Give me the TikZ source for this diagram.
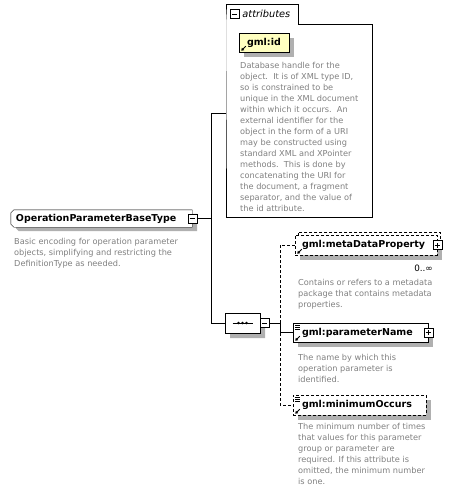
\documentclass[tikz,border=0pt]{standalone}
\usepackage{fontspec}
\setmainfont{DejaVu Sans}
\usetikzlibrary{shapes.misc,shadows,positioning,arrows.meta}

\definecolor{descgray}{RGB}{128,128,128}
\definecolor{idyellow}{RGB}{255,255,192}
\definecolor{shadegray}{RGB}{176,176,176}

\tikzset{
  boxshade/.style={drop shadow={shadow xshift=5pt, shadow yshift=-5pt, fill=shadegray, opacity=1}},
  elbox/.style={draw, fill=white, inner sep=0pt, boxshade},
  optline/.style={dash pattern=on 3pt off 2pt},
  optbox/.style={elbox, optline},
  lbl/.style={inner sep=0pt, font=\fontsize{9.5}{11}\selectfont\bfseries},
  desc/.style={anchor=north west, inner sep=0pt, align=left, text=descgray,
    font=\fontsize{8.2}{11}\selectfont},
  minusbox/.style={draw, fill=white, minimum size=9pt, inner sep=0pt,
    path picture={\draw ([xshift=2pt]path picture bounding box.west) -- ([xshift=-2pt]path picture bounding box.east);}},
  plusbox/.style={draw, fill=white, minimum size=9pt, inner sep=0pt,
    path picture={\draw ([xshift=2pt]path picture bounding box.west) -- ([xshift=-2pt]path picture bounding box.east);
      \draw ([yshift=2pt]path picture bounding box.south) -- ([yshift=-2pt]path picture bounding box.north);}},
}

% small reference arrow, lower left corner of an element box
\newcommand\refmark[1]{%
  \draw[line width=.9pt, -{Triangle[length=2.5pt,width=3.2pt]}]
    ([shift={(7pt,6pt)}]#1.south west) -- ([shift={(2.5pt,1.5pt)}]#1.south west);}
% simple content lines, upper left corner of an element box
\newcommand\seqmark[1]{%
  \foreach \dy in {2.5,4.5,6.5}
    \draw[line width=.6pt] ([shift={(2pt,-\dy pt)}]#1.north west) -- ++(5pt,0pt);}

\begin{document}
\begin{tikzpicture}[x=1pt, y=-1pt]
  \useasboundingbox[fill=white] (0,0) rectangle (455,492);

  %%type
  \node[minimum width=181pt, minimum height=17pt, inner sep=0pt] (optype) at (101.5,218.5) {};
  \draw[fill=white, preaction={fill=shadegray, transform canvas={shift={(5pt,-4pt)}}}]
    ([xshift=3pt]optype.north west) -- (optype.north east) -- (optype.south east)
    -- ([xshift=3pt]optype.south west) -- ([yshift=3pt]optype.south west)
    -- ([yshift=-3pt]optype.north west) -- cycle;
  \node[lbl, right=5pt of optype.west] (optypeT) {OperationParameterBaseType};
  \node[minusbox] (optypeM) at (optype.east) {};
  \node[desc] (optypeD) at (14,238) {Basic encoding for operation parameter\\
    objects, simplifying and restricting the\\
    DefinitionType as needed.};

  %%attributes
  \node[minimum width=72pt, minimum height=20pt, inner sep=0pt] (attrtab) at (262,14) {};
  \node[minimum width=146pt, minimum height=193pt, inner sep=0pt] (attrs) at (299,120.5) {};
  \draw (attrtab.south west) |- (attrtab.north east) |- (attrs.north east)
    |- (attrs.south west) -- cycle;
    \node[minusbox, right=4pt of attrtab.west] (attrtabM) {};
    \node[inner sep=0pt, font=\fontsize{9.8}{10}\selectfont\itshape, right=3pt of attrtabM]
      (attrtabT) {attributes};

    \node[elbox, fill=idyellow, minimum width=50pt, minimum height=19pt] (attrid) at (264,42.5) {};
    \node[lbl, right=8pt of attrid.west] (attridT) {gml:id};
    \refmark{attrid}
    \node[desc] (attridD) at (240,62) {Database handle for the\\
      object.\ \ It is of XML type ID,\\
      so is constrained to be\\
      unique in the XML document\\
      within which it occurs.\ \ An\\
      external identifier for the\\
      object in the form of a URI\\
      may be constructed using\\
      standard XML and XPointer\\
      methods.\ \ This is done by\\
      concatenating the URI for\\
      the document, a fragment\\
      separator, and the value of\\
      the id attribute.};

  %%sequence
  \node[draw, fill=white, chamfered rectangle, chamfered rectangle sep=5pt,
    minimum width=35pt, minimum height=20pt, inner sep=0pt, boxshade] (seq) at (242.5,323) {};
    \draw ([xshift=-10pt]seq.center) -- ([xshift=10pt]seq.center);
    \foreach \dx in {-4,0,4}
      \fill ([xshift=\dx pt]seq.center) circle (1.3pt);
  \node[minusbox, right=0pt of seq.east] (seqM) {};

  %%metaDataProperty
  \node[draw, fill=white, optline, minimum width=142pt, minimum height=20pt, inner sep=0pt]
    (metaB) at (369,242) {};
  \node[optbox, minimum width=142pt, minimum height=20pt] (meta) at (366,245) {};
    \node[plusbox] (metaP) at (meta.east) {};
    \node[lbl, right=7pt of meta.west] (metaT) {gml:metaDataProperty};
    \refmark{meta}
    \node[inner sep=0pt, anchor=east, font=\fontsize{8.8}{10}\selectfont] (metaO) at (433,268) {0..∞};
    \node[desc] (metaD) at (298,279) {Contains or refers to a metadata\\
      package that contains metadata\\
      properties.};

  %%parameterName
  \node[elbox, minimum width=135pt, minimum height=19pt] (pname) at (360.5,332.5) {};
    \node[plusbox] (pnameP) at (pname.east) {};
    \node[lbl, right=9pt of pname.west] (pnameT) {gml:parameterName};
    \seqmark{pname}
    \refmark{pname}
    \node[desc] (pnameD) at (298,354) {The name by which this\\
      operation parameter is\\
      identified.};

  %%minimumOccurs
  \node[optbox, minimum width=133pt, minimum height=20pt] (minocc) at (359.5,405) {};
    \node[lbl, right=9pt of minocc.west] (minoccT) {gml:minimumOccurs};
    \seqmark{minocc}
    \refmark{minocc}
    \node[desc] (minoccD) at (298,423) {The minimum number of times\\
      that values for this parameter\\
      group or parameter are\\
      required. If this attribute is\\
      omitted, the minimum number\\
      is one.};

  %%connectors
  \coordinate (fork1) at (211,218.5);
  \coordinate (attrIn) at (226,113);
  \draw (optypeM) -- (fork1);
  \draw (fork1) |- (attrIn);
  \draw (fork1) |- (seq.west);

  \coordinate (fork2) at (280,323);
  \draw (seqM) -- (fork2);
  \draw[optline] (fork2) |- (meta.west);
  \draw[optline] (fork2) |- (minocc.west);
  \draw (fork2) |- (pname.west);

\end{tikzpicture}
\end{document}
